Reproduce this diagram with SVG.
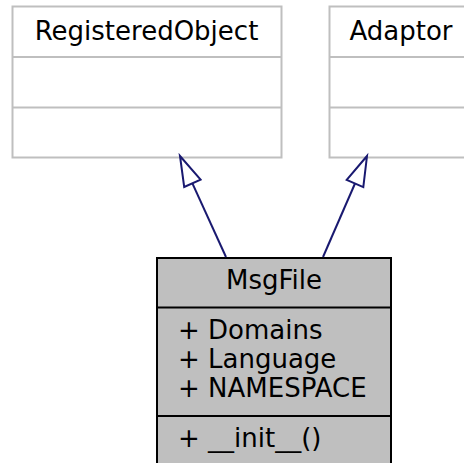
<svg xmlns="http://www.w3.org/2000/svg" width="464" height="463" viewBox="0 0 464 463">
<style>
  text { font-family: "DejaVu Sans", sans-serif; font-size: 26px; fill: #000; }
  .c { text-anchor: middle; }
  .base rect, .base line { fill: #fff; stroke: #bfbfbf; stroke-width: 2; }
  .cur rect, .cur line { fill: #bfbfbf; stroke: #000; stroke-width: 2; }
  .edge { fill: none; stroke: #191970; stroke-width: 2; }
  .head { fill: #fff; stroke: #191970; stroke-width: 2; }
</style>
<rect width="464" height="463" fill="#fff"/>
<g id="RegisteredObject" class="base">
  <rect x="12.5" y="6.5" width="269" height="151"/>
  <line x1="12.5" y1="57" x2="281.5" y2="57"/>
  <line x1="12.5" y1="107.5" x2="281.5" y2="107.5"/>
  <text class="c" x="146.5" y="39.5">RegisteredObject</text>
</g>
<g id="Adaptor" class="base">
  <rect x="329.5" y="6.5" width="142" height="151"/>
  <line x1="329.5" y1="57" x2="471.5" y2="57"/>
  <line x1="329.5" y1="107.5" x2="471.5" y2="107.5"/>
  <text class="c" x="401" y="39.5">Adaptor</text>
</g>
<g id="MsgFile" class="cur">
  <rect x="157" y="258" width="234" height="210"/>
  <line x1="157" y1="307.5" x2="391" y2="307.5"/>
  <line x1="157" y1="416" x2="391" y2="416"/>
  <text class="c" x="274" y="289">MsgFile</text>
  <text x="178" y="339">+ Domains</text>
  <text x="178" y="368">+ Language</text>
  <text x="178" y="397">+ NAMESPACE</text>
  <text x="178" y="447">+ __init__()</text>
</g>
<g id="connectors">
  <line class="edge" x1="226" y1="257" x2="192.4" y2="183.3"/>
  <polygon class="head" points="180,156 184.2,187 200.6,179.6"/>
  <line class="edge" x1="323" y1="257" x2="355" y2="183.5"/>
  <polygon class="head" points="367,156 346.7,179.9 363.3,187.1"/>
</g>
</svg>
